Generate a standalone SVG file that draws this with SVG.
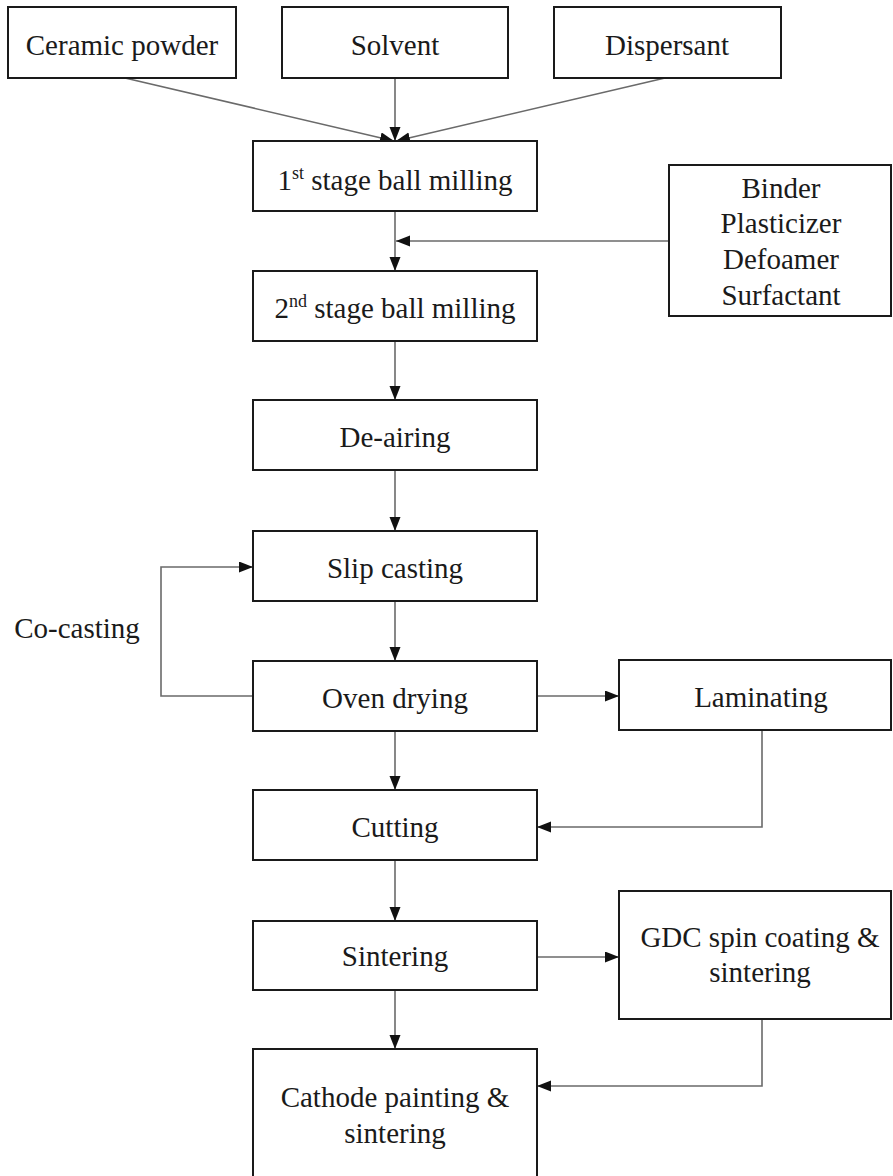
<svg xmlns="http://www.w3.org/2000/svg" width="893" height="1176" viewBox="0 0 893 1176">
<style>
.box{fill:#fff;stroke:#1a1a1a;stroke-width:2}
.t{font-family:"Liberation Serif","Times New Roman",serif;font-size:29px;fill:#1a1a1a;text-anchor:middle}
.c{fill:none;stroke:#6a6a6a;stroke-width:1.6}
</style>
<defs>
<marker id="ah" markerUnits="userSpaceOnUse" markerWidth="15" markerHeight="12" refX="14" refY="5.5" orient="auto">
<path d="M0,0 L14,5.5 L0,11 z" fill="#111"/>
</marker>
</defs>
<rect width="893" height="1176" fill="#fff"/>
<g id="connectors">
<line class="c" x1="125" y1="78" x2="394" y2="141" marker-end="url(#ah)"/>
<line class="c" x1="395" y1="78" x2="395" y2="141" marker-end="url(#ah)"/>
<line class="c" x1="665" y1="78" x2="396" y2="141" marker-end="url(#ah)"/>
<line class="c" x1="395" y1="211" x2="395" y2="271" marker-end="url(#ah)"/>
<line class="c" x1="669" y1="241" x2="396" y2="241" marker-end="url(#ah)"/>
<line class="c" x1="395" y1="341" x2="395" y2="400" marker-end="url(#ah)"/>
<line class="c" x1="395" y1="470" x2="395" y2="531" marker-end="url(#ah)"/>
<line class="c" x1="395" y1="601" x2="395" y2="661" marker-end="url(#ah)"/>
<polyline class="c" points="254,696 161,696 161,567 253,567" marker-end="url(#ah)"/>
<line class="c" x1="537" y1="696" x2="619" y2="696" marker-end="url(#ah)"/>
<line class="c" x1="395" y1="731" x2="395" y2="790" marker-end="url(#ah)"/>
<polyline class="c" points="762,730 762,827 537,827" marker-end="url(#ah)"/>
<line class="c" x1="395" y1="860" x2="395" y2="921" marker-end="url(#ah)"/>
<line class="c" x1="537" y1="957" x2="619" y2="957" marker-end="url(#ah)"/>
<line class="c" x1="395" y1="990" x2="395" y2="1049" marker-end="url(#ah)"/>
<polyline class="c" points="762,1019 762,1086 537,1086" marker-end="url(#ah)"/>
</g>
<g id="ceramic"><rect class="box" x="8" y="7" width="228" height="71"/><text class="t" x="122" y="55">Ceramic powder</text></g>
<g id="solvent"><rect class="box" x="282" y="7" width="226" height="71"/><text class="t" x="395" y="55">Solvent</text></g>
<g id="dispersant"><rect class="box" x="554" y="7" width="227" height="71"/><text class="t" x="667" y="55">Dispersant</text></g>
<g id="stage1"><rect class="box" x="253" y="141" width="284" height="70"/><text class="t" x="395" y="190">1<tspan font-size="18" dy="-11">st</tspan><tspan dy="11"> stage ball milling</tspan></text></g>
<g id="additives"><rect class="box" x="669" y="165" width="222" height="151"/>
<text class="t" x="781" y="198">Binder</text>
<text class="t" x="781" y="233">Plasticizer</text>
<text class="t" x="781" y="269">Defoamer</text>
<text class="t" x="781" y="305">Surfactant</text></g>
<g id="stage2"><rect class="box" x="253" y="271" width="284" height="70"/><text class="t" x="395" y="318">2<tspan font-size="18" dy="-11">nd</tspan><tspan dy="11"> stage ball milling</tspan></text></g>
<g id="deairing"><rect class="box" x="253" y="400" width="284" height="70"/><text class="t" x="395" y="447">De-airing</text></g>
<g id="slip"><rect class="box" x="253" y="531" width="284" height="70"/><text class="t" x="395" y="578">Slip casting</text></g>
<g id="cocasting"><text class="t" x="77" y="638">Co-casting</text></g>
<g id="oven"><rect class="box" x="253" y="661" width="284" height="70"/><text class="t" x="395" y="708">Oven drying</text></g>
<g id="laminating"><rect class="box" x="619" y="660" width="272" height="70"/><text class="t" x="761" y="707">Laminating</text></g>
<g id="cutting"><rect class="box" x="253" y="790" width="284" height="70"/><text class="t" x="395" y="837">Cutting</text></g>
<g id="sintering"><rect class="box" x="253" y="921" width="284" height="69"/><text class="t" x="395" y="966">Sintering</text></g>
<g id="gdc"><rect class="box" x="619" y="891" width="272" height="128"/>
<text class="t" x="760" y="947">GDC spin coating &amp;</text>
<text class="t" x="760" y="982">sintering</text></g>
<g id="cathode"><rect class="box" x="253" y="1049" width="284" height="140"/>
<text class="t" x="395" y="1107">Cathode painting &amp;</text>
<text class="t" x="395" y="1143">sintering</text></g>
</svg>
